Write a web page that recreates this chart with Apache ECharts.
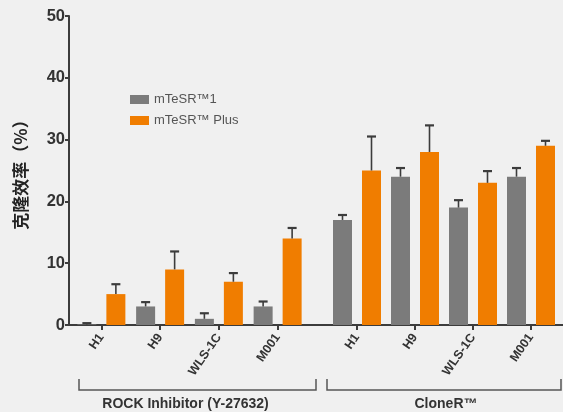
<!DOCTYPE html>
<html><head><meta charset="utf-8">
<script src="https://cdn.jsdelivr.net/npm/echarts@6/dist/echarts.min.js"></script>
<style>html,body{margin:0;padding:0;background:#f0f0f0;}#c{width:563px;height:412px;}</style>
</head><body><div id="c"></div>
<script>
var categories = ['H1', 'H9', 'WLS-1C', 'M001'];
var seriesNames = ['mTeSR™1', 'mTeSR™ Plus'];
var groupNames = ['ROCK Inhibitor (Y-27632)', 'CloneR™'];
var yTicks = [0, 10, 20, 30, 40, 50];
var yName = '克隆效率（%）';

var rockMTeSR1 = [0.1, 3, 1, 3];
var rockMTeSR1SD = [0.2, 0.7, 0.9, 0.8];
var rockPlus = [5, 9, 7, 14];
var rockPlusSD = [1.6, 2.9, 1.4, 1.7];
var cloneMTeSR1 = [17, 24, 19, 24];
var cloneMTeSR1SD = [0.8, 1.4, 1.2, 1.4];
var clonePlus = [25, 28, 23, 29];
var clonePlusSD = [5.5, 4.3, 1.9, 0.8];

var GRAY = '#7b7b7b', ORANGE = '#f07d00', DARK = '#3c3c3c';
var BAR_W = 19, GAP = 10, OFF = (BAR_W + GAP) / 2;
var FONT = '"Liberation Sans", Arial, sans-serif';

function errData(vals, sds) {
  return vals.map(function (v, i) { return [i, v, sds[i]]; });
}
function errRender(offset) {
  return function (params, api) {
    var sd = api.value(2);
    if (!(sd > 0)) return;
    var b = api.coord([api.value(0), api.value(1)]);
    var t = api.coord([api.value(0), api.value(1) + sd]);
    var cx = b[0] + offset;
    return {
      type: 'group', children: [
        { type: 'line', shape: { x1: cx, y1: b[1], x2: cx, y2: t[1] }, style: { stroke: DARK, lineWidth: 1.6 } },
        { type: 'line', shape: { x1: cx - 4.5, y1: t[1], x2: cx + 4.5, y2: t[1] }, style: { stroke: DARK, lineWidth: 2.2 } }
      ]
    };
  };
}
function catAxis(gi) {
  return {
    type: 'category', gridIndex: gi, data: categories,
    axisLine: { show: false },
    axisTick: { show: true, alignWithLabel: true, length: 5, lineStyle: { color: DARK, width: 2 } },
    axisLabel: { rotate: 55, margin: 10, fontFamily: FONT, fontWeight: 'bold', fontSize: 12.5, color: '#333', interval: 0 }
  };
}
function hiddenY(gi) {
  return { type: 'value', gridIndex: gi, min: 0, max: 50, interval: 10, show: false, splitLine: { show: false } };
}
function bar(name, data, gi, color) {
  return { name: name, type: 'bar', xAxisIndex: gi, yAxisIndex: gi, data: data, barWidth: BAR_W, barGap: (GAP / BAR_W * 100) + '%', itemStyle: { color: color }, z: 2 };
}
function err(data, sds, gi, offset) {
  return { type: 'custom', xAxisIndex: gi, yAxisIndex: gi, data: errData(data, sds), renderItem: errRender(offset), encode: { x: 0, y: 1 }, z: 3, silent: true };
}

var chart = echarts.init(document.getElementById('c'), null, { renderer: 'canvas' });
var TOP = 16, BOTTOM = 87;
chart.setOption({
  backgroundColor: '#f0f0f0',
  animation: false,
  legend: {
    data: seriesNames, orient: 'vertical', left: 125, top: 88,
    itemWidth: 19, itemHeight: 9, itemGap: 8,
    icon: 'rect',
    textStyle: { fontFamily: FONT, fontSize: 13, color: '#555' }
  },
  grid: [
    { left: 72, width: 235, top: TOP, bottom: BOTTOM },
    { left: 328, width: 232, top: TOP, bottom: BOTTOM },
    { left: 69, right: 0, top: TOP, bottom: BOTTOM }
  ],
  xAxis: [
    catAxis(0), catAxis(1),
    { type: 'category', gridIndex: 2, data: [''], axisLine: { show: true, lineStyle: { color: DARK, width: 2 } }, axisTick: { show: false }, axisLabel: { show: false } }
  ],
  yAxis: [
    hiddenY(0), hiddenY(1),
    {
      type: 'value', gridIndex: 2, min: yTicks[0], max: yTicks[yTicks.length - 1], interval: 10,
      name: yName, nameLocation: 'middle', nameGap: 40, nameRotate: 90,
      nameTextStyle: { fontFamily: '"Noto Sans CJK SC", sans-serif', fontWeight: 'bold', fontSize: 17, color: '#222' },
      axisLine: { show: true, lineStyle: { color: DARK, width: 2 } },
      axisTick: { show: true, length: 4, lineStyle: { color: DARK, width: 2 } },
      axisLabel: { fontFamily: FONT, fontWeight: 'bold', fontSize: 16.5, color: '#333', margin: 4 },
      splitLine: { show: false }
    }
  ],
  series: [
    bar(seriesNames[0], rockMTeSR1, 0, GRAY),
    bar(seriesNames[1], rockPlus, 0, ORANGE),
    bar(seriesNames[0], cloneMTeSR1, 1, GRAY),
    bar(seriesNames[1], clonePlus, 1, ORANGE),
    err(rockMTeSR1, rockMTeSR1SD, 0, -OFF),
    err(rockPlus, rockPlusSD, 0, OFF),
    err(cloneMTeSR1, cloneMTeSR1SD, 1, -OFF),
    err(clonePlus, clonePlusSD, 1, OFF)
  ],
  graphic: [
    { type: 'polyline', shape: { points: [[79, 379], [79, 390], [316, 390], [316, 379]] }, style: { stroke: '#555', lineWidth: 1.5, fill: null } },
    { type: 'polyline', shape: { points: [[327, 379], [327, 390], [561, 390], [561, 379]] }, style: { stroke: '#555', lineWidth: 1.5, fill: null } },
    { type: 'text', x: 185.5, y: 404, style: { text: groupNames[0], fontFamily: FONT, fontWeight: 'bold', fontSize: 14, fill: '#333', align: 'center', verticalAlign: 'middle' } },
    { type: 'text', x: 446, y: 404, style: { text: groupNames[1], fontFamily: FONT, fontWeight: 'bold', fontSize: 14, fill: '#333', align: 'center', verticalAlign: 'middle' } }
  ]
});
</script></body></html>
